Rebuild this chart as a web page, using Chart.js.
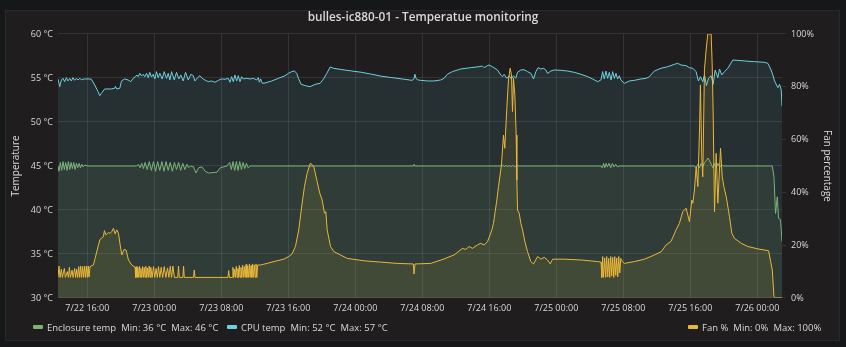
<!DOCTYPE html>
<html><head><meta charset="utf-8">
<script src="https://cdn.jsdelivr.net/npm/chart.js@4.4.1/dist/chart.umd.min.js"></script>
<style>
html,body{margin:0;padding:0;background:#161719;width:846px;height:347px;overflow:hidden;font-family:'Open Sans',sans-serif;}
#panel{position:absolute;left:5px;top:10px;width:833px;height:329px;background:#1f1d1e;border:1px solid #292929;}
#c{position:absolute;left:0;top:0;}
.lg{position:absolute;top:321px;font-size:9.5px;color:#d8d9da;white-space:nowrap;line-height:14px;}
.sw{display:inline-block;width:10px;height:4px;border-radius:1px;vertical-align:middle;margin-right:4px;position:relative;top:-1px}
.st{margin-left:5px}
</style></head>
<body>
<div id="panel"></div>
<canvas id="c" width="846" height="347"></canvas>
<div class="lg" id="lg1" style="left:33px"></div>
<div class="lg" id="lg2" style="left:227px"></div>
<div class="lg" id="lg3" style="left:688px"></div>
<script>
// ---- data (hours since 7/22 00:00) ----
const tickHours = [16,24,32,40,48,56,64,72,80,88,96];
const tickLabels = ['7/22 16:00','7/23 00:00','7/23 08:00','7/23 16:00','7/24 00:00','7/24 08:00','7/24 16:00','7/25 00:00','7/25 08:00','7/25 16:00','7/26 00:00'];

const cpuTime = [
12.50,12.70,12.90,13.10,13.30,13.50,13.70,13.90,14.09,14.29,
14.49,14.69,14.89,15.09,15.29,15.69,16.29,16.49,16.89,17.28,
17.48,17.68,18.08,18.88,19.28,19.36,19.52,19.88,20.08,20.47,
20.87,21.19,21.47,21.75,21.91,22.07,22.27,22.47,22.67,22.87,
23.07,23.27,23.46,23.66,23.86,24.06,24.26,24.46,24.66,24.94,
25.18,25.46,25.66,25.86,26.06,26.38,26.65,26.93,27.17,27.45,
27.73,28.05,28.37,28.65,28.85,29.17,29.45,29.72,30.04,30.44,
30.84,31.24,31.64,32.04,32.44,32.83,33.03,33.23,33.43,33.63,
33.83,34.03,34.23,34.43,34.63,35.03,35.43,35.83,36.22,36.42,
36.54,36.70,36.90,37.22,38.02,38.82,39.61,40.01,40.41,40.73,
41.01,41.21,41.53,42.01,42.60,43.20,43.80,44.20,44.60,45.00,
45.39,46.39,47.59,48.78,49.98,51.18,52.37,53.57,54.77,55.00,
55.12,55.24,55.48,55.80,
56.60,57.39,58.19,58.59,58.99,59.59,60.58,61.78,62.78,63.18,
63.38,63.77,63.97,64.37,64.97,65.37,65.57,65.77,66.09,66.37,
66.65,66.88,67.16,67.36,67.76,68.16,68.56,68.96,69.28,69.56,
69.83,70.15,70.47,70.75,70.95,71.35,71.75,72.55,73.34,74.14,
74.94,75.74,76.33,76.93,77.33,77.53,77.73,77.93,78.13,78.33,
78.53,78.73,78.93,79.13,79.32,79.52,79.72,80.12,80.72,81.32,
82.12,82.71,83.11,83.71,84.51,85.31,86.10,86.50,86.90,87.50,
87.90,88.30,88.69,88.97,89.21,89.49,89.69,89.93,90.17,90.49,
90.73,90.97,91.29,91.49,91.76,92.08,92.48,93.08,93.68,94.48,
95.67,96.87,97.27,97.59,97.86,98.06,98.30,98.46,98.66,98.86,
98.95];
const cpuTemp = [
54.89,54.01,54.77,54.96,54.58,55.04,54.66,54.96,54.66,55.04,
54.73,54.96,54.77,54.96,54.81,54.89,54.89,54.85,54.20,53.44,
52.99,53.26,53.75,53.75,53.83,54.05,53.75,53.83,54.66,54.89,
54.77,54.58,54.96,55.15,55.34,55.15,55.53,55.22,55.42,55.15,
55.53,55.04,55.64,55.11,55.42,54.89,55.72,55.04,55.53,54.89,
55.72,54.96,55.53,54.77,55.72,54.77,55.64,54.89,55.34,54.66,
55.64,54.77,55.42,55.26,54.66,55.04,55.26,54.96,54.77,54.58,
54.66,54.51,54.73,54.89,54.85,54.96,54.51,55.15,54.58,55.34,
54.66,55.26,54.58,55.15,54.89,54.96,54.89,54.96,54.77,55.04,
54.51,54.89,54.39,54.43,54.66,54.96,55.26,55.53,55.72,55.79,
55.53,54.96,54.28,54.13,54.01,54.28,54.39,54.89,55.53,56.25,
56.10,55.95,55.79,55.64,55.42,55.19,55.04,54.89,54.73,54.89,
55.42,54.96,54.77,54.73,
54.66,54.66,54.77,54.96,55.42,55.72,56.02,56.17,56.28,56.36,
56.17,56.40,56.47,56.28,55.91,55.34,55.15,55.42,54.96,55.26,
54.89,55.26,54.96,55.64,55.91,55.94,55.72,55.53,54.89,55.72,
56.17,56.02,56.10,55.91,55.53,55.79,55.91,55.87,55.79,55.64,
55.42,55.15,54.89,54.58,54.77,55.72,54.89,55.79,54.96,55.64,
54.77,55.72,54.96,55.53,54.89,55.26,54.77,54.39,54.66,54.73,
54.89,54.96,55.15,55.79,56.10,56.28,56.55,56.66,56.47,56.40,
56.17,56.10,55.72,54.66,55.15,54.58,55.34,54.12,54.96,55.26,
54.28,55.91,55.03,56.02,55.34,55.72,56.10,57.04,57.00,56.93,
56.85,56.78,56.66,56.02,55.34,54.66,54.20,53.90,54.28,53.63,
51.80];

const enclosureTime = [
12.50,12.62,12.78,12.94,13.10,13.26,13.42,13.58,13.74,13.90,
14.06,14.22,14.38,14.54,14.70,14.86,15.02,15.18,15.34,15.50,
15.70,16.10,21.90,
22.10,22.30,22.50,22.70,22.90,23.15,23.40,23.65,23.90,24.15,
24.40,24.65,24.90,25.15,25.40,25.65,25.90,26.15,26.40,26.65,
26.90,27.15,27.40,27.65,27.90,28.10,28.30,
28.69,28.97,29.29,29.68,30.08,30.48,31.48,31.88,32.68,
33.00,33.20,33.40,33.60,33.80,34.00,34.20,34.40,34.60,34.80,35.00,35.20,35.47,
54.90,55.00,55.10,
65.40,65.60,65.80,66.00,66.20,66.40,66.60,66.80,67.00,67.20,67.40,
77.35,77.50,77.65,77.80,77.95,78.10,78.30,78.50,78.70,78.90,79.10,79.30,79.50,
88.50,88.70,88.90,89.10,89.30,89.50,89.70,89.90,90.10,90.30,90.50,90.70,90.90,91.10,91.30,91.50,91.80,92.00,
97.79,97.99,98.18,98.39,98.54,98.78,98.95];
const enclosureTemp = [
45.0,44.4,45.4,44.5,45.5,44.6,45.4,44.5,45.5,44.6,
45.4,44.7,45.4,44.6,45.3,44.8,45.3,44.8,45.2,44.9,
45.1,45.0,45.0,
45.2,44.8,45.3,44.7,45.4,44.6,45.5,44.5,45.5,44.4,
45.5,44.5,45.5,44.4,45.5,44.5,45.4,44.4,45.4,44.6,
45.4,44.5,45.3,44.6,45.2,44.8,45.0,
44.9,44.2,44.8,44.9,44.4,44.2,44.3,44.8,45.0,
45.4,44.6,45.5,44.5,45.5,44.5,45.5,44.6,45.4,44.7,45.3,44.8,45.0,
45.0,45.2,45.0,
45.0,45.1,44.9,45.1,44.9,45.1,44.9,45.1,44.9,45.0,45.0,
45.0,44.8,45.3,44.8,45.3,44.9,45.3,44.8,45.3,44.9,45.2,44.9,45.0,
45.0,44.8,45.2,44.8,45.3,44.9,45.4,45.6,45.9,45.6,45.2,44.8,45.3,44.8,45.3,44.9,45.1,45.0,
45.0,43.8,39.6,41.5,39.05,38.9,36.4];

const fanTime = [
12.50,12.62,12.74,12.90,13.02,13.26,13.38,13.62,13.74,13.86,
13.98,14.18,14.30,14.49,14.61,14.73,14.85,14.97,15.09,15.21,
15.33,15.45,15.57,15.69,15.81,15.93,16.05,16.13,16.21,16.33,
16.73,16.93,17.33,17.52,17.92,18.04,18.24,18.52,18.72,18.92,
19.12,19.32,19.52,19.72,19.92,20.12,20.39,20.63,20.91,21.31,
21.71,21.77,21.83,21.93,22.03,22.13,22.23,22.31,22.39,22.49,
22.59,22.69,22.79,22.89,22.99,23.09,23.19,23.29,23.39,23.49,
23.58,23.74,23.90,24.06,24.22,24.36,24.50,24.66,24.82,25.00,
25.18,25.38,25.58,25.74,25.90,26.06,26.22,26.40,26.80,26.89,
26.98,27.40,27.49,27.58,28.68,28.77,28.86,32.79,32.88,32.97,
33.30,33.39,33.49,33.59,33.69,33.79,33.89,33.99,34.07,34.15,
34.25,34.35,34.45,34.55,34.65,34.75,34.85,34.95,35.05,35.15,
35.25,35.35,35.45,35.55,35.65,35.75,35.85,35.95,36.05,36.14,
36.24,36.34,36.66,37.46,38.66,39.45,40.05,40.45,40.85,41.25,
41.65,41.93,42.24,42.64,43.04,43.44,43.76,44.04,44.32,44.48,
44.64,45.04,45.43,46.23,47.03,49.03,51.02,53.01,54.93,55.01,
55.13,57.00,58.60,59.79,60.79,61.19,61.59,61.99,62.58,62.98,
63.38,63.78,64.10,64.30,64.50,64.70,64.90,65.10,65.45,65.69,
65.85,66.09,66.29,66.49,66.65,66.77,66.89,67.05,67.21,67.29,
67.37,67.57,67.77,67.97,68.25,68.56,68.96,69.28,69.76,70.16,
70.56,70.96,71.28,71.56,72.95,74.94,76.94,77.34,77.44,77.54,
77.64,77.78,77.90,78.02,78.14,78.26,78.38,78.50,78.62,78.74,
78.86,78.98,79.10,79.22,79.34,79.46,79.58,79.70,79.93,80.13,
81.32,82.52,83.72,84.51,85.11,85.71,86.30,86.70,87.10,87.50,
87.90,88.18,88.30,88.50,88.70,88.90,89.10,89.21,89.37,89.49,
89.69,89.89,90.09,90.49,90.61,90.73,90.89,91.09,91.29,91.61,
91.81,92.01,92.29,92.68,92.96,93.28,94.08,94.88,96.07,97.35,
97.59,97.79,97.99,98.15,98.95];
const fanPct = [
7.8,12.1,7.8,10.9,7.8,11.2,7.8,10.0,7.8,11.6,
7.8,10.6,7.8,11.2,7.8,10.9,7.8,11.9,7.8,12.1,
7.8,11.9,7.8,12.1,7.8,12.1,7.8,12.1,8.0,11.9,
12.5,15.0,20.1,22.2,23.2,25.5,23.9,24.8,24.5,25.1,
26.4,24.3,25.8,24.5,20.1,16.3,18.4,18.2,14.4,12.5,
11.6,7.8,11.9,7.8,11.6,7.8,12.1,7.8,11.2,7.8,
11.9,7.8,11.6,7.8,12.0,7.8,11.4,7.8,12.1,7.8,
11.6,7.8,11.9,7.8,11.2,7.8,11.9,7.8,11.6,7.8,
11.9,7.8,11.4,7.8,12.0,7.8,12.1,7.8,7.8,12.1,
7.8,7.8,12.1,7.8,7.8,10.6,7.8,7.8,10.4,7.8,
7.8,11.6,7.8,10.9,7.8,12.0,7.8,11.2,7.8,12.3,
7.8,11.6,7.8,12.5,7.8,11.9,7.8,12.7,7.8,12.1,
7.8,12.9,7.8,12.3,7.8,12.9,7.8,12.5,7.8,12.9,
7.8,12.5,12.5,13.1,14.1,14.7,15.7,16.7,19.5,25.8,
35.9,42.2,47.2,51.1,49.8,44.1,39.7,37.1,32.1,32.7,
25.8,19.5,17.6,16.3,15.0,14.1,13.6,13.1,12.9,9.1,
12.9,13.1,14.8,16.3,18.8,18.4,19.5,18.8,20.1,20.7,
20.1,21.3,23.9,25.8,28.3,32.7,37.1,42.2,50.4,61.7,
56.7,71.8,82.6,87.0,84.5,70.6,83.2,76.9,61.7,44.7,
33.3,32.1,28.3,25.8,21.3,17.6,13.8,12.9,15.7,14.7,
15.4,14.4,12.9,14.7,14.7,14.4,13.8,13.6,7.8,15.7,
7.8,15.2,7.8,15.7,8.0,15.0,7.8,15.7,8.3,15.4,
7.8,15.7,8.6,15.2,8.0,15.7,9.5,15.0,13.6,13.1,
13.8,14.7,16.3,17.5,20.1,21.5,25.8,28.3,32.7,34.0,
28.9,37.1,35.9,40.9,49.7,42.2,63.6,80.7,53.5,45.9,
86.4,93.9,100,100,88.9,70.0,32.7,54.8,35.9,56.7,
46.0,42.2,38.4,30.8,24.5,22.6,20.7,19.5,18.6,17.9,
13.8,10.6,0.5,0,0];

// ---- chart ----
const TXT = '#d8d9da';
const GRID = 'rgba(200,200,200,0.13)';
Chart.defaults.font.family = "'Open Sans', sans-serif";
Chart.defaults.color = TXT;

const pts = (t, v) => t.map((x, i) => ({x: x, y: v[i]}));

new Chart(document.getElementById('c'), {
  type: 'line',
  data: {
    datasets: [
      {label: 'Fan %', data: pts(fanTime, fanPct), yAxisID: 'yF', order: 0,
       borderColor: '#eab839', backgroundColor: 'rgba(234,184,57,0.1)', fill: 'start'},
      {label: 'CPU temp', data: pts(cpuTime, cpuTemp), yAxisID: 'yT', order: 1,
       borderColor: '#6ed0e0', backgroundColor: 'rgba(110,208,224,0.1)', fill: 'start'},
      {label: 'Enclosure temp', data: pts(enclosureTime, enclosureTemp), yAxisID: 'yT', order: 2,
       borderColor: '#7eb26d', backgroundColor: 'rgba(126,178,109,0.1)', fill: 'start'}
    ]
  },
  options: {
    responsive: false,
    animation: false,
    devicePixelRatio: 1,
    elements: {line: {borderWidth: 1, tension: 0}, point: {radius: 0, hoverRadius: 0}},
    layout: {padding: {left: 0, right: 0, top: 0, bottom: 27}},
    plugins: {
      legend: {display: false},
      tooltip: {enabled: false},
      title: {display: true, text: 'bulles-ic880-01 - Temperatue monitoring', color: TXT,
              font: {size: 11.8, weight: '600'}, padding: {top: 10.9, bottom: 8.9}}
    },
    scales: {
      x: {
        type: 'linear', min: 12.5, max: 98.95, position: 'bottom',
        afterBuildTicks: (s) => { s.ticks = tickHours.map(v => ({value: v})); },
        afterFit: (s) => { s.height = 22; },
        ticks: {autoSkip: false, maxRotation: 0, padding: 5.5, color: TXT, font: {size: 9},
                callback: (v) => tickLabels[tickHours.indexOf(v)]},
        grid: {color: GRID, drawTicks: false},
        border: {display: false}
      },
      yT: {
        type: 'linear', position: 'left', min: 30, max: 60,
        afterFit: (s) => { s.width = 58; },
        ticks: {stepSize: 5, padding: 5, color: TXT, font: {size: 9}, callback: (v) => v + ' °C'},
        grid: {color: GRID, drawTicks: false},
        border: {display: false},
        title: {display: true, text: 'Temperature', color: TXT, font: {size: 10}, padding: {top: 10.4, bottom: 0}}
      },
      yF: {
        type: 'linear', position: 'right', min: 0, max: 100,
        afterFit: (s) => { s.width = 64; },
        ticks: {stepSize: 20, padding: 5, color: TXT, font: {size: 9}, callback: (v) => v + '%'},
        grid: {drawOnChartArea: false, drawTicks: true, tickLength: 4, color: GRID},
        border: {display: false},
        title: {display: true, text: 'Fan percentage', color: TXT, font: {size: 10}, padding: {top: 13, bottom: 0}}
      }
    }
  }
});

// ---- legend (HTML) ----
const mn = a => Math.round(Math.min.apply(null, a));
const mx = a => Math.round(Math.max.apply(null, a));
function legend(id, color, name, a, unit) {
  document.getElementById(id).innerHTML =
    '<span class="sw" style="background:' + color + '"></span>' + name +
    '<span class="st">Min: ' + mn(a) + unit + '</span><span class="st">Max: ' + mx(a) + unit + '</span>';
}
legend('lg1', '#7eb26d', 'Enclosure temp', enclosureTemp, ' °C');
legend('lg2', '#6ed0e0', 'CPU temp', cpuTemp, ' °C');
legend('lg3', '#eab839', 'Fan %', fanPct, '%');
</script>
</body></html>
